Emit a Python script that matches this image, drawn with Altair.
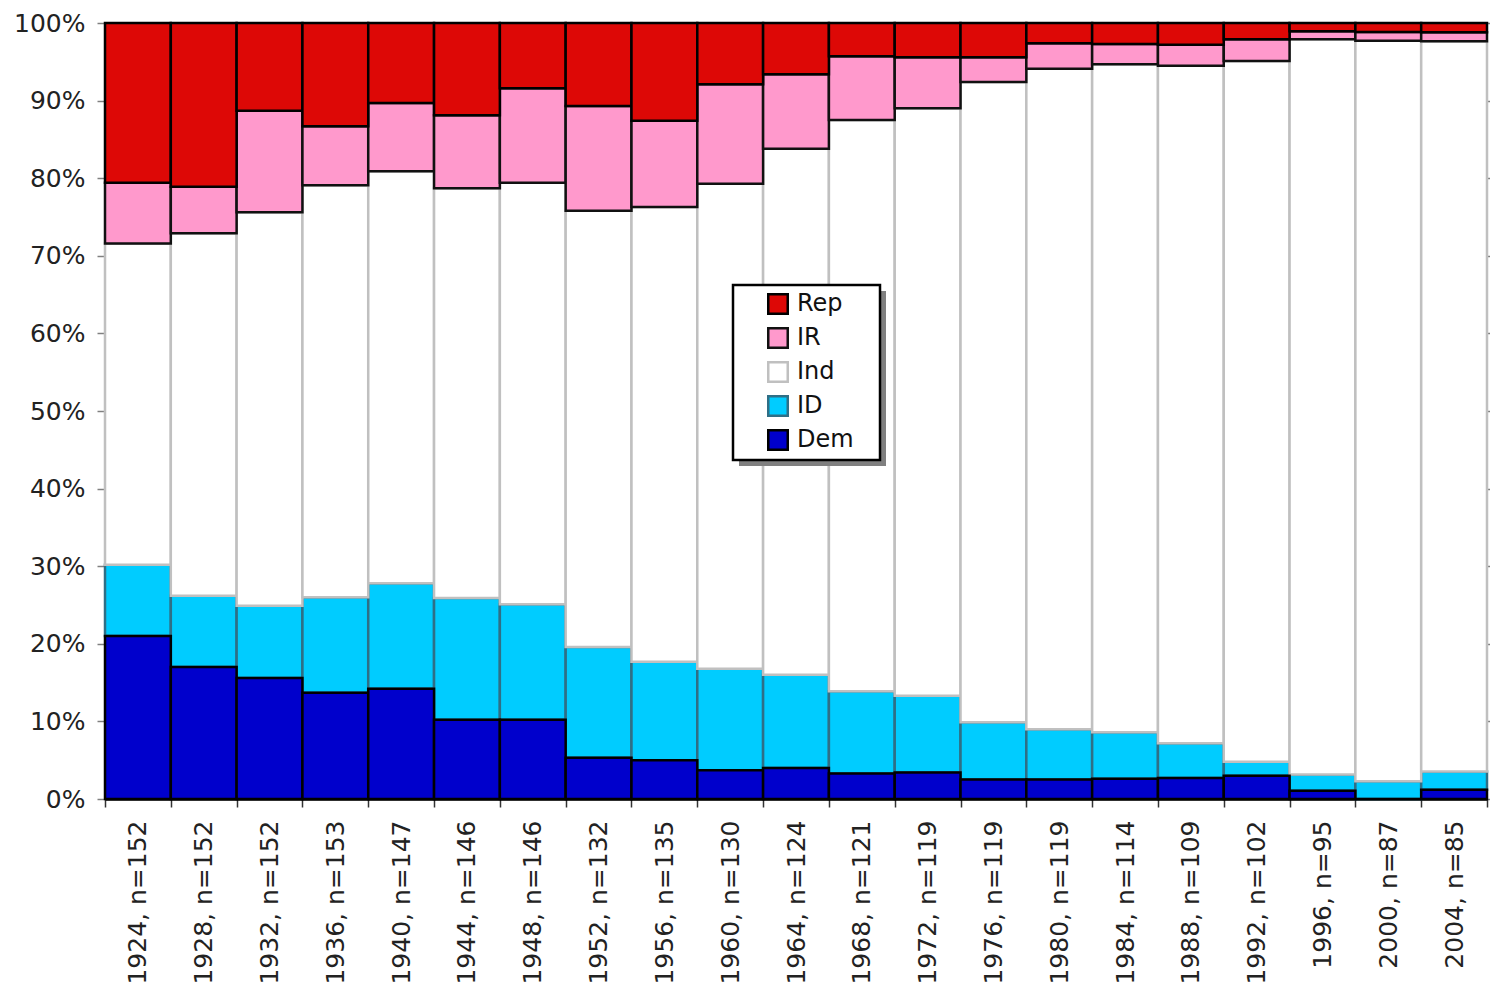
import altair as alt
import pandas as pd

labels = ["1924, n=152", "1928, n=152", "1932, n=152", "1936, n=153", "1940, n=147",
          "1944, n=146", "1948, n=146", "1952, n=132", "1956, n=135", "1960, n=130",
          "1964, n=124", "1968, n=121", "1972, n=119", "1976, n=119", "1980, n=119",
          "1984, n=114", "1988, n=109", "1992, n=102", "1996, n=95", "2000, n=87",
          "2004, n=85"]

dem = [21.0, 17.0, 15.6, 13.7, 14.2, 10.2, 10.2, 5.3, 5.0, 3.7, 4.0, 3.3, 3.4, 2.5, 2.5,
       2.6, 2.7, 3.0, 1.05, 0.0, 1.18]
id_ = [9.2, 9.2, 9.3, 12.3, 13.6, 15.7, 14.9, 14.3, 12.7, 13.1, 12.0, 10.6, 9.9, 7.4, 6.5,
       6.0, 4.5, 1.8, 2.1, 2.3, 2.35]
ind = [41.4, 46.7, 50.7, 53.1, 53.1, 52.8, 54.3, 56.2, 58.6, 62.5, 67.8, 73.6, 75.7, 82.5,
       85.1, 86.1, 87.3, 90.3, 94.75, 95.4, 94.11]
ir = [7.8, 6.0, 13.1, 7.6, 8.8, 9.4, 12.2, 13.5, 11.1, 12.8, 9.6, 8.2, 6.6, 3.2, 3.3,
      2.6, 2.7, 2.8, 1.05, 1.15, 1.18]
rep = [20.6, 21.1, 11.3, 13.3, 10.3, 11.9, 8.4, 10.7, 12.6, 7.9, 6.6, 4.3, 4.4, 4.4, 2.6,
       2.7, 2.8, 2.1, 1.05, 1.15, 1.18]

series = ["Rep", "IR", "Ind", "ID", "Dem"]
fills = ["#DD0806", "#FF99CC", "#FFFFFF", "#00CCFF", "#0000CC"]
strokes = ["#000000", "#111111", "#C0C0C0", "#2F6F86", "#000000"]
widths = [2.5, 2.5, 2.5, 1, 4]
ticks = [i / 10 for i in range(11)]

stack_rank = {"Dem": 0, "ID": 1, "Ind": 2, "IR": 3, "Rep": 4}
draw_order = [("ID", id_), ("Ind", ind), ("Dem", dem), ("IR", ir), ("Rep", rep)]
rows = []
for name, vals in draw_order:
    for lab, v in zip(labels, vals):
        rows.append({"label": lab, "party": name, "value": v, "rank": stack_rank[name]})
df = pd.DataFrame(rows)

FONT = "DejaVu Sans"

bars = alt.Chart(df).mark_bar().encode(
    x=alt.X("label:N", sort=labels, title=None,
            scale=alt.Scale(paddingInner=0, paddingOuter=0),
            axis=alt.Axis(labelAngle=-90, labelFontSize=25, labelFont=FONT, labelColor="#222222",
                          labelPadding=13, tickBand="extent", tickSize=8, tickColor="#333333",
                          tickWidth=1.5, domainColor="#000000", domainWidth=2.5, labelLimit=300)),
    y=alt.Y("value:Q", stack="normalize", title=None,
            scale=alt.Scale(domain=[0, 1], nice=False),
            axis=alt.Axis(format=".0%", values=ticks, labelFontSize=25, labelFont=FONT,
                          labelColor="#222222", labelPadding=12, tickSize=8,
                          tickColor="#808080", tickWidth=1.5, domainColor="#000000",
                          domainWidth=2.5, grid=False)),
    fill=alt.Fill("party:N", scale=alt.Scale(domain=series, range=fills),
                  legend=alt.Legend(title=None, orient="none", legendX=661, legendY=269,
                                    symbolType="square", symbolSize=380, symbolStrokeWidth=1,
                                    symbolStrokeColor="#555555", labelFontSize=24,
                                    labelFont=FONT, labelColor="#111111", labelOffset=7,
                                    rowPadding=4, padding=0)),
    stroke=alt.Stroke("party:N", scale=alt.Scale(domain=series, range=strokes), legend=None),
    strokeWidth=alt.StrokeWidth("party:N", scale=alt.Scale(domain=series, range=widths),
                                legend=None),
    order=alt.Order("rank:Q"),
)

tickdf = pd.DataFrame({"t": ticks})
right_axis = alt.Chart(tickdf).mark_rule(strokeOpacity=0).encode(
    y=alt.Y("t:Q", title=None, scale=alt.Scale(domain=[0, 1], nice=False),
            axis=alt.Axis(orient="right", values=ticks, labels=False, domain=False,
                          tickSize=6, tickColor="#808080", tickWidth=1.5, grid=False)),
)

one = pd.DataFrame({"a": [0]})
shadow = alt.Chart(one).mark_rect(fill="#808080").encode(
    x=alt.value(634), x2=alt.value(781), y=alt.value(268), y2=alt.value(443))
frame = alt.Chart(one).mark_rect(fill="#FFFFFF", stroke="#000000", strokeWidth=2.5).encode(
    x=alt.value(628), x2=alt.value(775), y=alt.value(262), y2=alt.value(437))

chart = alt.layer(bars, right_axis, shadow, frame).resolve_axis(y="independent").properties(
    width=1382, height=776,
    padding={"left": 105, "top": 23, "right": 3, "bottom": 188},
    autosize=alt.AutoSizeParams(type="none"),
    background="#FFFFFF",
).configure_view(stroke=None)

chart.save("out.html", embed_options={"renderer": "svg", "actions": False})
